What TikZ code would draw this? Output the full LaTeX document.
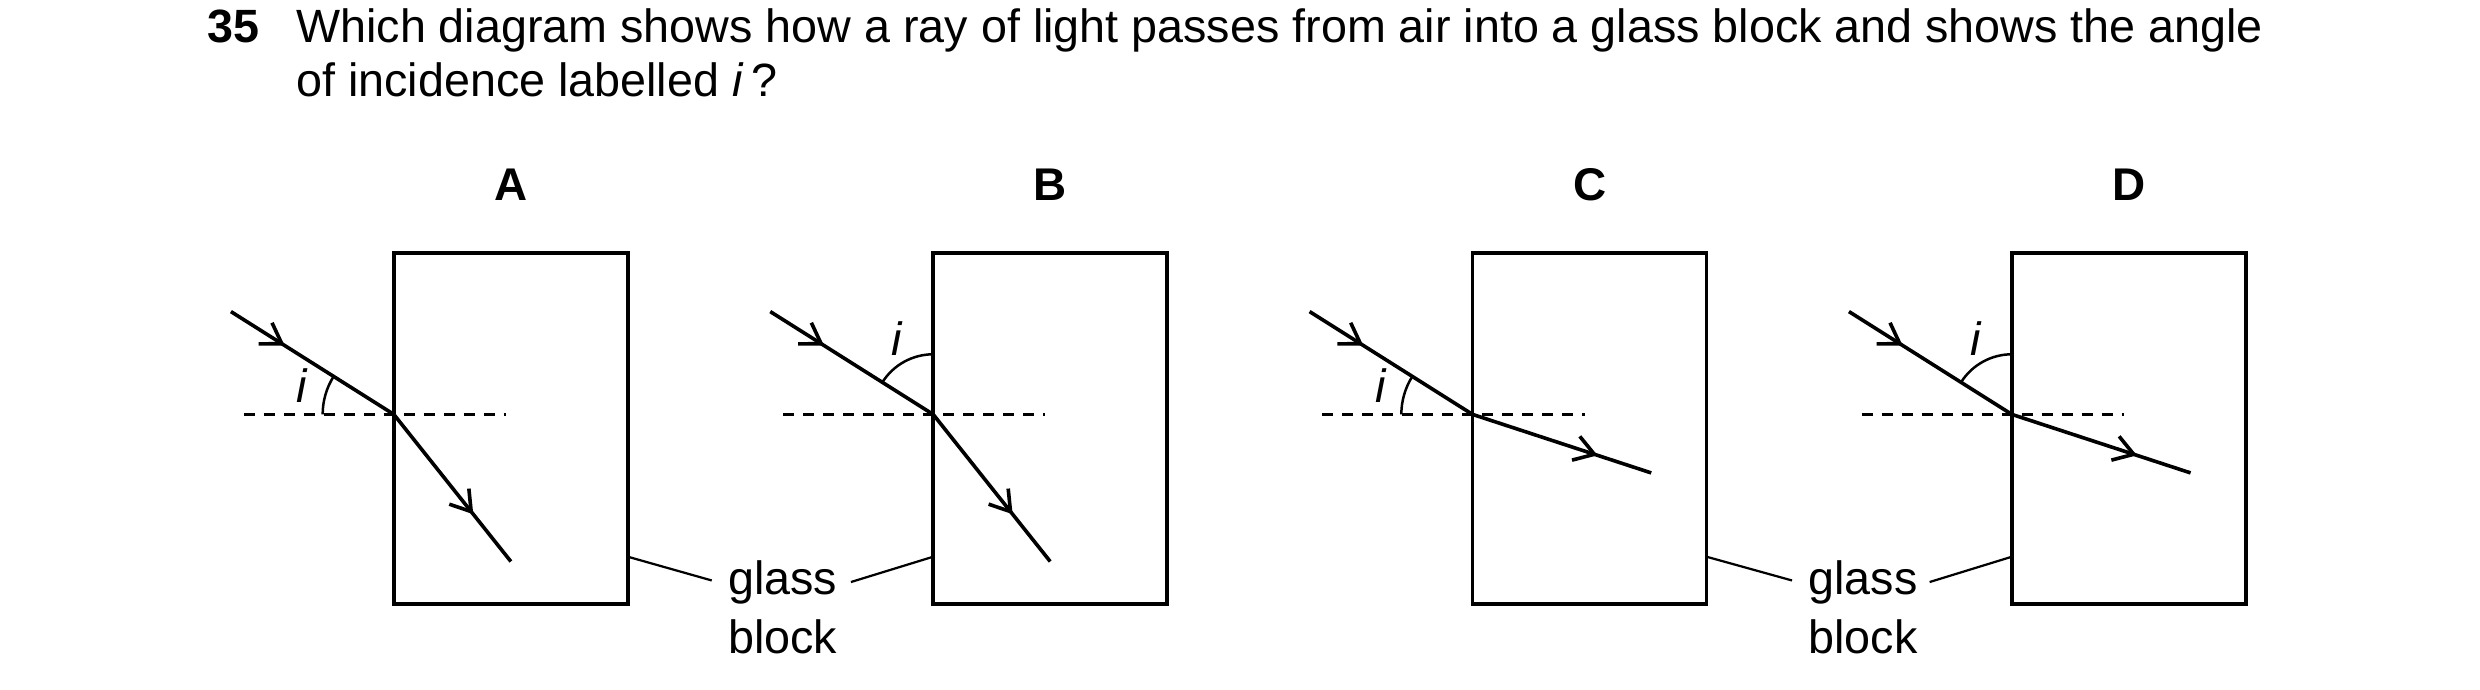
\documentclass[tikz,border=0pt]{standalone}
\usepackage{fontspec}
\setmainfont{Liberation Sans}
\usetikzlibrary{arrows.meta,decorations.markings,positioning}
\tikzset{
  block/.style={draw, line width=1.3pt},
  normal/.style={dashed, dash pattern=on 4pt off 3.2pt, line width=0.8pt},
  ray/.style={line width=1.3pt, postaction={decorate},
    decoration={markings, mark=at position #1 with {\arrow{Straight Barb[length=7pt,width=9pt,line width=1.3pt]}}}},
  tag/.style={font=\fontsize{16.8}{20}\selectfont, inner sep=0pt},
  letter/.style={font=\bfseries\fontsize{16.5}{20}\selectfont},
  pointer/.style={line width=0.8pt},
  angle/.style={line width=0.9pt}
}
\begin{document}
\begin{tikzpicture}[x=0.02cm, y=-0.02cm]
  \useasboundingbox (0,0) rectangle (1568,436);
  % question
  \node [anchor=base west, inner sep=0pt, font=\bfseries\fontsize{16.8}{20}\selectfont] (num) at (131,27) {35};
  \node [anchor=base west, inner sep=0pt, font=\fontsize{16.8}{20}\selectfont] (q1) at (187,27)
    {Which diagram shows how a ray of light passes from air into a glass block and shows the angle};
  \node [anchor=base west, inner sep=0pt, font=\fontsize{16.8}{20}\selectfont] (q2) at (187,61)
    {of incidence labelled \textit{i}\,?};
  % panels
  \foreach \name/\dx in {A/0, B/341, C/682, D/1023} {
    \node [letter] (lab\name) at (323+\dx,117) {\name};
    \draw [block] (249+\dx,160) rectangle (397+\dx,382);
    \coordinate (hit\name) at (249+\dx,262);
    \coordinate (src\name) at (146+\dx,197);
    \draw [normal] (154+\dx,262) -- (320+\dx,262);
    \draw [ray=0.33] (src\name) -- (hit\name);
  }
  % refracted rays
  \coordinate (endA) at (323,355);
  \coordinate (endB) at (664,355);
  \coordinate (endC) at (1044,299);
  \coordinate (endD) at (1385,299);
  \draw [ray=0.68] (hitA) -- (endA);
  \draw [ray=0.68] (hitB) -- (endB);
  \draw [ray=0.7] (hitC) -- (endC);
  \draw [ray=0.7] (hitD) -- (endD);
  % angles
  \draw [angle] (hitA) ++(180:45) arc[start angle=180, end angle=212.3, radius=45];
  \draw [angle] (hitC) ++(180:45) arc[start angle=180, end angle=212.3, radius=45];
  \draw [angle] (hitB) ++(270:38) arc[start angle=270, end angle=212.3, radius=38];
  \draw [angle] (hitD) ++(270:38) arc[start angle=270, end angle=212.3, radius=38];
  \node [tag, font=\itshape\fontsize{16.8}{20}\selectfont] (iA) at (191,244) {i};
  \node [tag, font=\itshape\fontsize{16.8}{20}\selectfont] (iC) at (873,244) {i};
  \node [tag, font=\itshape\fontsize{16.8}{20}\selectfont] (iB) at (567,214) {i};
  \node [tag, font=\itshape\fontsize{16.8}{20}\selectfont] (iD) at (1249,214) {i};
  % glass block labels
  \node [tag, anchor=west, align=left] (glass1) at (460,384) {glass\\[1pt]block};
  \node [tag, anchor=west, align=left] (glass2) at (1143,384) {glass\\[1pt]block};
  \coordinate (edgeA) at (397,352);
  \coordinate (edgeB) at (590,352);
  \coordinate (edgeC) at (1079,352);
  \coordinate (edgeD) at (1272,352);
  \draw [pointer] (edgeA) -- (450,367);
  \draw [pointer] (538,368) -- (edgeB);
  \draw [pointer] (edgeC) -- (1133,367);
  \draw [pointer] (1220,368) -- (edgeD);
\end{tikzpicture}
\end{document}
